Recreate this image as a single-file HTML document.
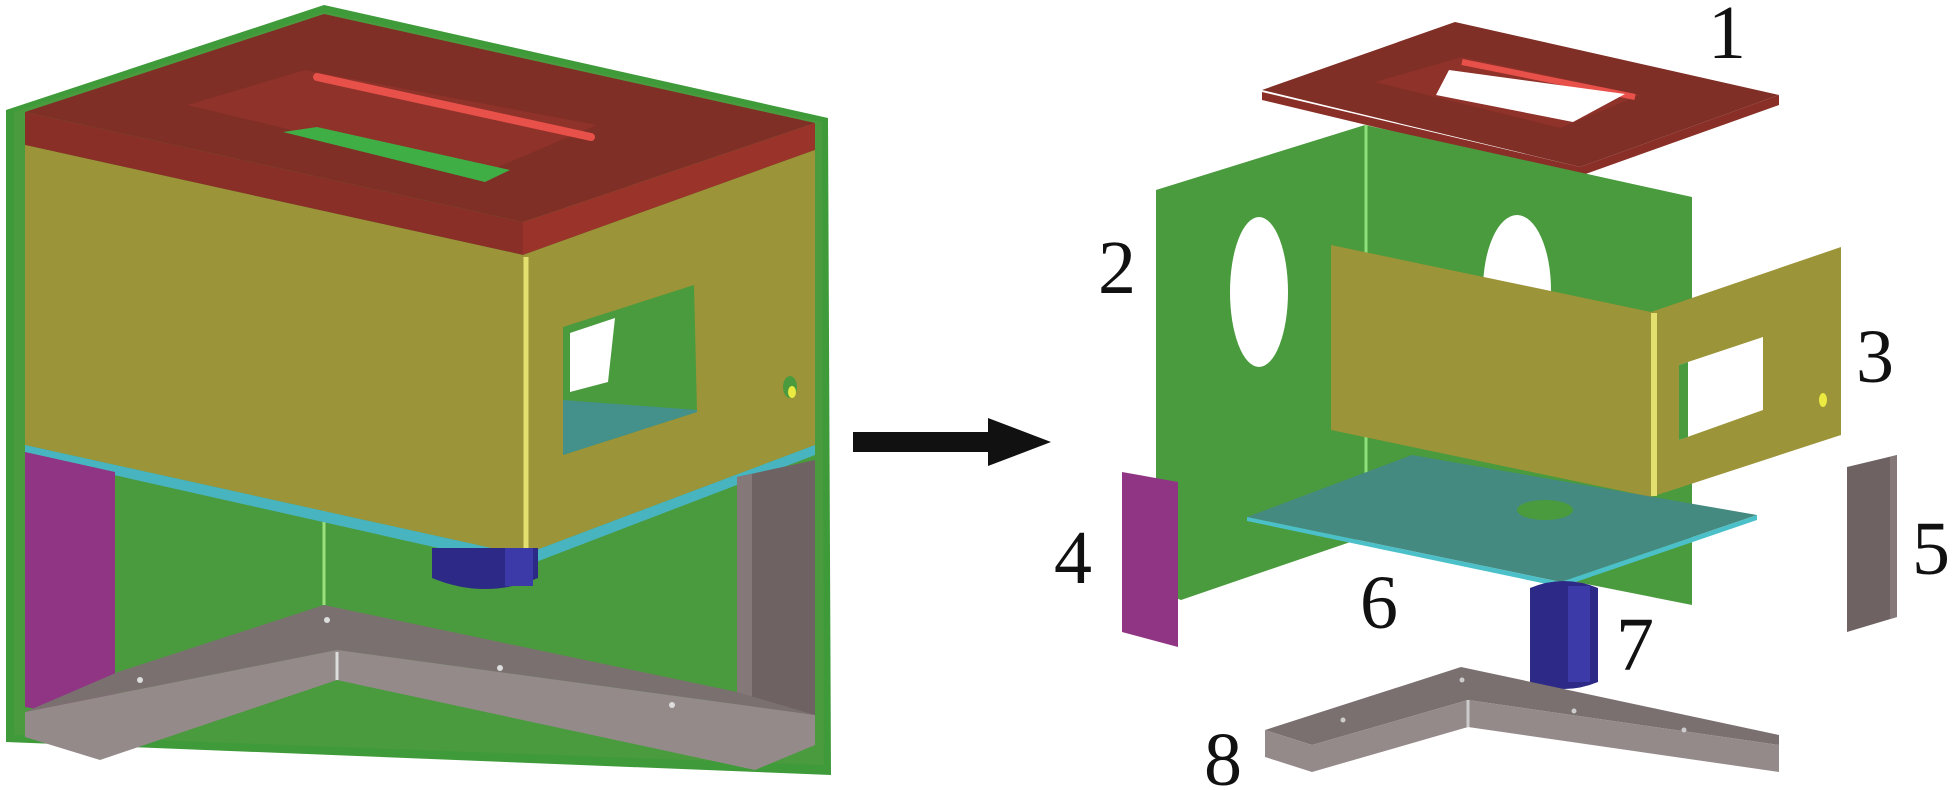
<!DOCTYPE html>
<html><head><meta charset="utf-8"><style>
html,body{margin:0;padding:0;background:#fff;}
svg{display:block;}
text{font-family:"Liberation Serif",serif;font-size:76px;fill:#111;}
</style></head><body>
<svg width="1952" height="790" viewBox="0 0 1952 790" xmlns="http://www.w3.org/2000/svg">
<!-- LEFT ASSEMBLY -->
<!-- green back panel -->
<polygon points="6,110 324,5 828,118 831,775 6,742" fill="#3f9a3a"/>
<polygon points="14,112 324,12 822,122 824,765 14,735" fill="#4a9a3e"/>
<line x1="324" y1="255" x2="324" y2="605" stroke="#9be07a" stroke-width="3"/>
<!-- red top -->
<polygon points="25,112 324,14 815,123 523,222" fill="#7f2f26"/>
<polygon points="25,112 523,222 523,255 25,145" fill="#8a2f27"/>
<polygon points="523,222 815,123 815,150 523,255" fill="#9a342b"/>
<polygon points="187,105 305,70 597,125 479,175" fill="#8e322a"/>
<line x1="317" y1="77" x2="591" y2="137" stroke="#e8504a" stroke-width="8" stroke-linecap="round"/>
<polygon points="283,132 317,127 510,170 485,182" fill="#3fae45"/>
<!-- yellow box -->
<polygon points="25,145 523,255 523,555 25,445" fill="#9c9438"/>
<polygon points="523,255 815,150 815,445 523,555" fill="#9c9438"/>
<line x1="526" y1="257" x2="526" y2="553" stroke="#e4e070" stroke-width="5"/>
<polygon points="563,327 694,285 697,412 563,455" fill="#4a9a3e"/>
<polygon points="570,333 615,318 608,382 570,392" fill="#fff"/>
<polygon points="563,400 697,410 697,412 563,455" fill="#44908a"/>
<ellipse cx="790" cy="387" rx="7" ry="11" fill="#4a9a3e"/>
<ellipse cx="792" cy="392" rx="4" ry="6" fill="#eaea40"/>
<!-- cyan strip -->
<polygon points="25,445 523,555 815,445 815,455 523,567 25,455" fill="#48b4c0"/>
<!-- magenta -->
<polygon points="25,452 115,472 115,722 25,707" fill="#8f3584"/>
<!-- gray right post -->
<polygon points="737,477 815,460 815,730 737,742" fill="#6e6262"/>
<polygon points="737,477 752,474 752,740 737,742" fill="#857878"/>
<!-- blue cylinder -->
<path d="M432,548 L538,548 L538,578 Q485,600 432,578 Z" fill="#2c2a86"/>
<rect x="505" y="548" width="28" height="38" fill="#3c3aa8"/>
<!-- base -->
<polygon points="118,672 324,605 737,692 815,715 337,650 25,712" fill="#7b7070"/>
<polygon points="25,712 337,650 815,715 815,745 755,770 337,680 100,760 25,737" fill="#958a8a"/>
<line x1="337" y1="652" x2="337" y2="680" stroke="#ddd" stroke-width="3"/>
<circle cx="140" cy="680" r="3" fill="#ddd"/><circle cx="327" cy="620" r="3" fill="#ddd"/>
<circle cx="500" cy="668" r="3" fill="#ddd"/><circle cx="672" cy="705" r="3" fill="#ddd"/>

<!-- ARROW -->
<rect x="853" y="432" width="140" height="20" fill="#111"/>
<polygon points="988,418 1051,442 988,466" fill="#111"/>

<!-- RIGHT EXPLODED -->
<!-- 1 red plate -->
<polygon points="1262,92 1262,100 1580,176 1779,105 1779,95 1580,167" fill="#8a2f27"/>
<polygon points="1262,90 1455,22 1779,95 1580,167" fill="#7f2f26"/>
<polygon points="1375,82 1462,57 1640,95 1560,128" fill="#8e322a"/>
<line x1="1462" y1="62" x2="1635" y2="97" stroke="#e8504a" stroke-width="6"/>
<polygon points="1436,95 1449,70 1625,94 1573,122" fill="#fff"/>
<text x="1708" y="58">1</text>
<!-- 2 green panel -->
<polygon points="1156,190 1365,125 1365,537 1181,600 1156,590" fill="#4a9a3e"/>
<polygon points="1365,125 1692,197 1692,605 1365,540" fill="#4a9a3e"/>
<line x1="1366" y1="125" x2="1366" y2="538" stroke="#8ee07a" stroke-width="3"/>
<ellipse cx="1259" cy="292" rx="29" ry="75" fill="#fff"/>
<ellipse cx="1517" cy="290" rx="34" ry="75" fill="#fff"/>
<text x="1098" y="293">2</text>
<!-- 3 yellow -->
<polygon points="1331,245 1651,312 1651,497 1331,430" fill="#9c9438"/>
<polygon points="1651,312 1841,247 1841,435 1651,497" fill="#9c9438"/>
<line x1="1654" y1="313" x2="1654" y2="496" stroke="#e4e070" stroke-width="6"/>
<polygon points="1679,365 1763,337 1763,410 1679,440" fill="#fff"/>
<polygon points="1679,365 1688,362 1688,437 1679,440" fill="#4a9a3e"/>
<ellipse cx="1823" cy="400" rx="4" ry="7" fill="#eaea40"/>
<text x="1856" y="382">3</text>
<!-- 6 cyan -->
<polygon points="1247,517 1412,455 1757,515 1561,582" fill="#458a80"/>
<polygon points="1247,517 1561,582 1757,515 1757,520 1561,587 1247,521" fill="#4cc0c8"/>
<ellipse cx="1545" cy="510" rx="28" ry="10" fill="#4a9a3e"/>
<text x="1360" y="628">6</text>
<!-- 4 magenta -->
<polygon points="1122,472 1178,482 1178,647 1122,632" fill="#8f3584"/>
<text x="1054" y="583">4</text>
<!-- 5 gray -->
<polygon points="1847,467 1897,455 1897,617 1847,632" fill="#6e6262"/>
<polygon points="1890,457 1897,455 1897,617 1890,619" fill="#857878"/>
<text x="1912" y="574">5</text>
<!-- 7 blue cylinder -->
<path d="M1530,588 Q1564,574 1598,588 L1598,682 Q1564,696 1530,682 Z" fill="#2c2a86"/>
<rect x="1568" y="586" width="22" height="96" fill="#3c3aa8"/>
<text x="1616" y="670">7</text>
<!-- 8 base -->
<polygon points="1265,730 1461,667 1779,735 1779,745 1468,700 1312,745" fill="#7b7070"/>
<polygon points="1265,730 1312,745 1468,700 1779,745 1779,772 1468,727 1312,772 1265,757" fill="#958a8a"/>
<line x1="1468" y1="700" x2="1468" y2="727" stroke="#ccc" stroke-width="3"/>
<circle cx="1343" cy="720" r="2.5" fill="#ccc"/><circle cx="1462" cy="680" r="2.5" fill="#ccc"/>
<circle cx="1574" cy="711" r="2.5" fill="#ccc"/><circle cx="1684" cy="730" r="2.5" fill="#ccc"/>
<text x="1204" y="785">8</text>
</svg>
</body></html>
